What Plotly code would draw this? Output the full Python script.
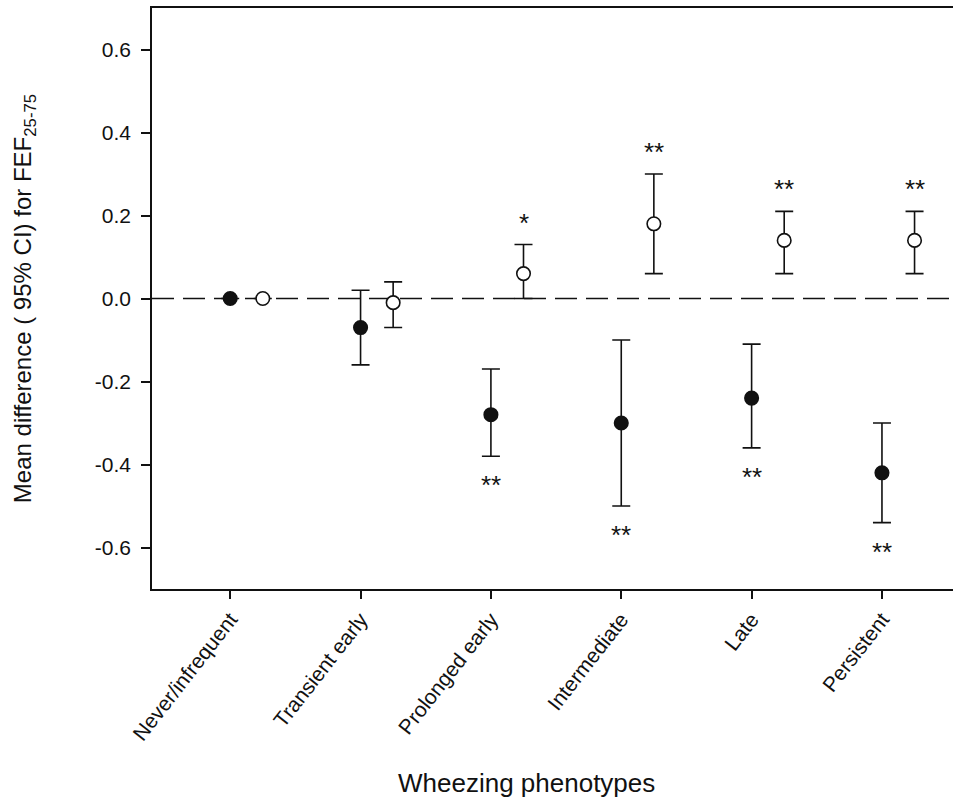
import plotly.graph_objects as go

categories = ["Never/infrequent", "Transient early", "Prolonged early",
              "Intermediate", "Late", "Persistent"]

# filled circles
filled_mean = [0.00, -0.07, -0.28, -0.30, -0.24, -0.42]
filled_lo = [0.00, -0.16, -0.38, -0.50, -0.36, -0.54]
filled_hi = [0.00, 0.02, -0.17, -0.10, -0.11, -0.30]
filled_sig = ["", "", "**", "**", "**", "**"]

# open circles
open_mean = [0.00, -0.01, 0.06, 0.18, 0.14, 0.14]
open_lo = [0.00, -0.07, 0.00, 0.06, 0.06, 0.06]
open_hi = [0.00, 0.04, 0.13, 0.30, 0.21, 0.21]
open_sig = ["", "", "*", "**", "**", "**"]

yticks = [-0.6, -0.4, -0.2, 0.0, 0.2, 0.4, 0.6]

x_title = "Wheezing phenotypes"
y_title = "Mean difference ( 95% CI) for FEF<sub>25-75</sub>"

FONT = "Liberation Sans, Arial, sans-serif"
INK = "#111111"
OFFSET = 0.25

idx = list(range(len(categories)))
x_filled = [i for i in idx]
x_open = [i + OFFSET for i in idx]

fig = go.Figure()

fig.add_shape(type="line", xref="paper", x0=0, x1=1, yref="y", y0=0, y1=0,
              line=dict(color=INK, width=1.6, dash="22px,9px"), layer="below")

def add_series(xs, mean, lo, hi, fill):
    fig.add_trace(go.Scatter(
        x=xs, y=mean, mode="markers",
        error_y=dict(type="data", symmetric=False,
                     array=[h - m for h, m in zip(hi, mean)],
                     arrayminus=[m - l for m, l in zip(mean, lo)],
                     color=INK, thickness=1.6, width=9),
        marker=dict(symbol="circle", size=13.5, color=fill,
                    line=dict(color=INK, width=1.6)),
        showlegend=False, cliponaxis=False))

add_series(x_filled, filled_mean, filled_lo, filled_hi, INK)
add_series(x_open, open_mean, open_lo, open_hi, "white")

for i in idx:
    if open_sig[i]:
        fig.add_annotation(x=x_open[i], y=open_hi[i], text=open_sig[i],
                           showarrow=False, yanchor="middle", yshift=22,
                           font=dict(family=FONT, size=26, color=INK))
    if filled_sig[i]:
        fig.add_annotation(x=x_filled[i], y=filled_lo[i], text=filled_sig[i],
                           showarrow=False, yanchor="middle", yshift=-29,
                           font=dict(family=FONT, size=26, color=INK))

# axis titles
fig.add_annotation(xref="paper", yref="paper", x=0.467, y=-0.334,
                   text=x_title, showarrow=False, xanchor="center", yanchor="middle",
                   font=dict(family=FONT, size=26, color=INK))
fig.add_annotation(xref="paper", yref="paper", x=-0.159, y=0.5,
                   text=y_title, showarrow=False, textangle=-90,
                   xanchor="center", yanchor="middle",
                   font=dict(family=FONT, size=24, color=INK))

fig.update_layout(
    width=953, height=803,
    margin=dict(l=152, r=0, t=8, b=214),
    paper_bgcolor="white", plot_bgcolor="white",
    font=dict(family=FONT, color=INK),
)

fig.update_xaxes(
    range=[-0.6, 5.545], tickmode="array", tickvals=idx, ticktext=categories,
    tickangle=-52, tickfont=dict(family=FONT, size=21, color=INK),
    ticks="outside", ticklen=8, tickwidth=1.5, tickcolor=INK,
    showline=True, linecolor=INK, linewidth=1.6, mirror=True,
    showgrid=False, zeroline=False, automargin=False,
)

fig.update_yaxes(
    range=[-0.7, 0.7], tickmode="array", tickvals=yticks,
    ticktext=[f"{v:.1f}" for v in yticks],
    tickfont=dict(family=FONT, size=21, color=INK),
    ticks="outside", ticklen=9, tickwidth=1.5, tickcolor=INK,
    ticklabelstandoff=6,
    showline=True, linecolor=INK, linewidth=1.6, mirror=False,
    showgrid=False, zeroline=False, automargin=False,
)

fig.write_html("out.html", config={"displayModeBar": False},
               post_script="document.body.style.margin='0';document.body.style.overflow='hidden';")
